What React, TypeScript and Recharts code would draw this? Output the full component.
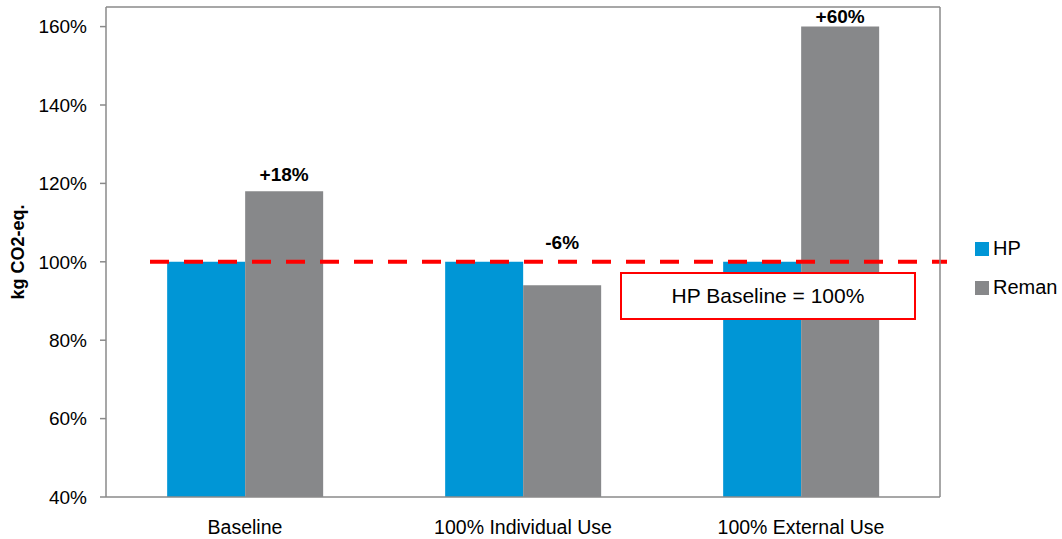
import React from "react";
import { BarChart, Bar, XAxis, YAxis, ReferenceLine, LabelList, Legend } from "recharts";

const categories = ["Baseline", "100% Individual Use", "100% External Use"];
const hpValues = [100, 100, 100];
const remanValues = [118, 94, 160];
const remanLabels = ["+18%", "-6%", "+60%"];
const yTicks = [40, 60, 80, 100, 120, 140, 160];
const seriesNames = ["HP", "Reman"];
const seriesColors = ["#0096D6", "#87888A"];
const baselineValue = 100;
const baselineText = "HP Baseline = 100%";
const yLabel = "kg CO2-eq.";

const data = categories.map((c, i) => ({
  name: c,
  HP: hpValues[i],
  Reman: remanValues[i],
  label: remanLabels[i],
}));

const FONT = "'Liberation Sans', Arial, sans-serif";
const AXIS = "#8a8a8a";
const DOMAIN_MIN = 40;

const RemanLabel = (props: any) => {
  const { x, y, width, height, index, value } = props;
  const v = remanValues[index];
  const pxPerUnit = height / (v - DOMAIN_MIN);
  const yBase = y + height - (baselineValue - DOMAIN_MIN) * pxPerUnit;
  const anchor = Math.min(y, yBase - 2) - 17;
  const cy = Math.max(anchor, 16);
  return (
    <text
      x={x + width / 2}
      y={cy}
      textAnchor="middle"
      dominantBaseline="central"
      fontFamily={FONT}
      fontSize={19}
      fontWeight="bold"
      fill="#000"
    >
      {remanLabels[index] ?? value}
    </text>
  );
};

const BaselineShape = (props: any) => {
  const { x1, y1, x2, y2 } = props;
  return (
    <line
      x1={x1 + 44}
      y1={y1}
      x2={x2 + 7}
      y2={y2}
      stroke="#FF0000"
      strokeWidth={4}
      strokeDasharray="19 15"
    />
  );
};

const YLabel = (props: any) => {
  const vb = props.viewBox || { x: 0, y: 7, width: 106, height: 490 };
  const cx = vb.x + 18;
  const cy = vb.y + vb.height / 2;
  return (
    <text
      x={cx}
      y={cy}
      transform={`rotate(-90 ${cx} ${cy})`}
      textAnchor="middle"
      dominantBaseline="central"
      fontFamily={FONT}
      fontSize={18}
      fontWeight="bold"
      fill="#000"
    >
      {yLabel}
    </text>
  );
};

const LegendContent = () => (
  <div style={{ fontFamily: FONT, fontSize: 20, color: "#000" }}>
    {seriesNames.map((n, i) => (
      <div key={n} style={{ display: "flex", alignItems: "center", height: 39 }}>
        <span
          style={{
            display: "inline-block",
            width: 14,
            height: 14,
            background: seriesColors[i],
            marginRight: 4,
          }}
        />
        <span>{n}</span>
      </div>
    ))}
  </div>
);

export default function App() {
  return (
    <div style={{ position: "absolute", left: 0, top: 0, width: 1062, height: 539, background: "#fff" }}>
      <BarChart
        width={1062}
        height={539}
        data={data}
        margin={{ top: 7, right: 122, bottom: 0, left: 0 }}
        barCategoryGap="22%"
        barGap={0}
      >
        <XAxis
          dataKey="name"
          height={42}
          tickLine={false}
          tickSize={0}
          tickMargin={23}
          axisLine={{ stroke: AXIS, strokeWidth: 1.5 }}
          tick={{ fontFamily: FONT, fontSize: 19.5, fill: "#000" }}
          interval={0}
        />
        <XAxis xAxisId="top" orientation="top" dataKey="name" mirror tick={false} tickLine={false} axisLine={{ stroke: AXIS, strokeWidth: 1.5 }} />
        <YAxis
          width={106}
          domain={[40, 165]}
          ticks={yTicks}
          allowDataOverflow
          tickFormatter={(v: number) => `${v}%`}
          tickSize={6}
          tickMargin={13}
          tickLine={{ stroke: AXIS, strokeWidth: 1.5 }}
          axisLine={{ stroke: AXIS, strokeWidth: 1.5 }}
          tick={{ fontFamily: FONT, fontSize: 19, fill: "#000" }}
          label={<YLabel />}
        />
        <YAxis yAxisId="right" orientation="right" mirror tick={false} tickLine={false} axisLine={{ stroke: AXIS, strokeWidth: 1.5 }} />
        <Bar dataKey="HP" name={seriesNames[0]} fill={seriesColors[0]} isAnimationActive={false} />
        <Bar dataKey="Reman" name={seriesNames[1]} fill={seriesColors[1]} isAnimationActive={false}>
          <LabelList dataKey="label" content={<RemanLabel />} />
        </Bar>
        <ReferenceLine y={baselineValue} shape={<BaselineShape />} ifOverflow="visible" />
        <Legend
          layout="vertical"
          align="center"
          verticalAlign="middle"
          content={<LegendContent />}
          wrapperStyle={{ left: 975, top: 229, width: 87, height: 78 }}
        />
      </BarChart>
      <div
        style={{
          position: "absolute",
          left: 620,
          top: 272,
          width: 296,
          height: 48,
          boxSizing: "border-box",
          border: "2.5px solid #FF0000",
          background: "#fff",
          display: "flex",
          alignItems: "center",
          justifyContent: "center",
          fontFamily: FONT,
          fontSize: 21,
          color: "#000",
        }}
      >
        {baselineText}
      </div>
    </div>
  );
}
